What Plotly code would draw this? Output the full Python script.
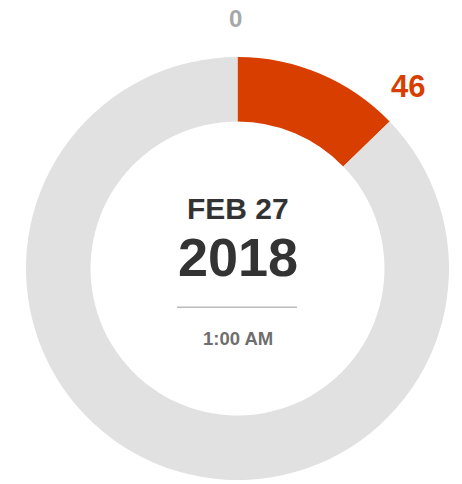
import math
import plotly.graph_objects as go

# Data
segment_labels = ["Value", "Remainder"]
segment_values = [46, 314]
scale_max = 360
start_label = "0"
value_label = "46"
date_line = "FEB 27"
year_line = "2018"
time_line = "1:00 AM"

W, H = 462, 484
cx, cy, R = 237.5, 268.5, 211.5

fig = go.Figure(go.Pie(
    labels=segment_labels,
    values=segment_values,
    hole=0.695,
    sort=False,
    direction="clockwise",
    rotation=0,
    textinfo="none",
    hoverinfo="skip",
    marker=dict(colors=["#D83E00", "#E1E1E1"], line=dict(width=0)),
    domain=dict(x=[(cx - R) / W, (cx + R) / W], y=[(H - cy - R) / H, (H - cy + R) / H]),
    showlegend=False,
))

def polar_to_paper(value, rpx):
    ang = value / scale_max * 2 * math.pi
    x = cx + rpx * math.sin(ang)
    y = cy - rpx * math.cos(ang)
    return x / W, (H - y) / H

x0, y0 = polar_to_paper(0, 250)
x1, y1 = polar_to_paper(segment_values[0], 250)

font = "Liberation Sans, Arial, sans-serif"
annotations = [
    dict(x=x0, y=y0, xshift=-2, text=f"<b>{start_label}</b>",
         font=dict(size=24, color="#A6A8AB", family=font)),
    dict(x=x1, y=y1, xshift=-9, yshift=8, text=f"<b>{value_label}</b>",
         font=dict(size=31, color="#D83E00", family=font)),
    dict(x=cx / W, y=(H - 208.5) / H, text=f"<b>{date_line}</b>", font=dict(size=30, color="#333333", family=font)),
    dict(x=cx / W, y=(H - 257.5) / H, text=f"<b>{year_line}</b>", font=dict(size=54, color="#333333", family=font)),
    dict(x=cx / W, y=(H - 338.5) / H, text=f"<b>{time_line}</b>", font=dict(size=18.5, color="#6E6E6E", family=font)),
]
for a in annotations:
    a.update(xref="paper", yref="paper", showarrow=False, xanchor="center", yanchor="middle")

fig.update_layout(
    width=W, height=H,
    margin=dict(l=0, r=0, t=0, b=0),
    paper_bgcolor="white", plot_bgcolor="white",
    annotations=annotations,
    shapes=[dict(type="line", xref="paper", yref="paper",
                 x0=177 / W, x1=297 / W, y0=(H - 307.3) / H, y1=(H - 307.3) / H,
                 line=dict(color="#BBBBBB", width=1.5))],
)

fig.write_html("out.html", config={"displayModeBar": False},
               post_script="document.body.style.margin='0';document.body.style.overflow='hidden';")
